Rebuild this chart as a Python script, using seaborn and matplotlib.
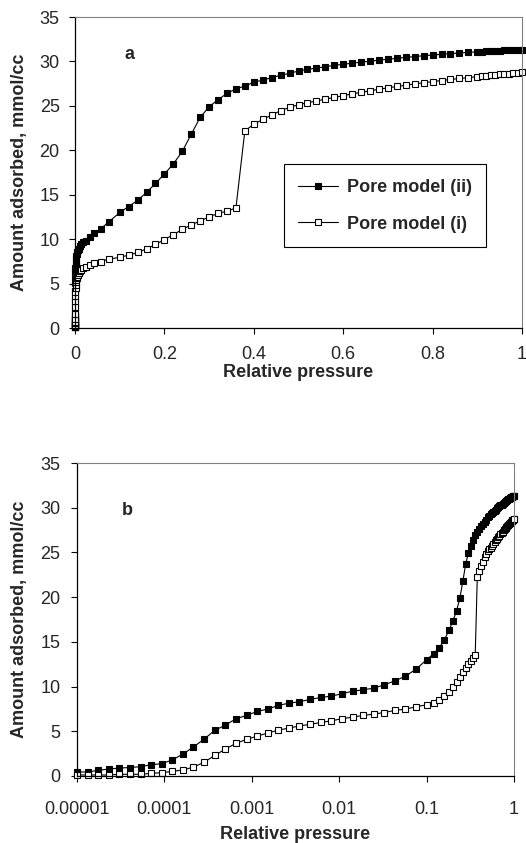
import pandas as pd
import seaborn as sns
import matplotlib.pyplot as plt
from matplotlib.ticker import NullLocator

sns.set_theme(style='ticks')
plt.rcParams['font.family'] = ['Liberation Sans', 'DejaVu Sans']

# relative pressure (log-spaced below 0.1, then steps of 0.02 / 0.01)
pressure = [1.0e-5, 1.32e-5, 1.75e-5, 2.31e-5, 3.05e-5, 4.04e-5, 5.34e-5, 7.06e-5,
            9.33e-5, 1.23e-4, 1.63e-4, 2.15e-4, 2.85e-4, 3.77e-4, 4.98e-4, 6.58e-4,
            8.70e-4, 1.15e-3, 1.52e-3, 2.01e-3, 2.66e-3, 3.51e-3, 4.64e-3, 6.14e-3,
            8.11e-3, 1.07e-2, 1.42e-2, 1.87e-2, 2.48e-2, 3.28e-2, 4.33e-2, 5.72e-2,
            7.57e-2, 0.10,
            0.12, 0.14, 0.16, 0.18, 0.20, 0.22, 0.24, 0.26, 0.28, 0.30,
            0.32, 0.34, 0.36, 0.38, 0.40, 0.42, 0.44, 0.46, 0.48, 0.50,
            0.52, 0.54, 0.56, 0.58, 0.60, 0.62, 0.64, 0.66, 0.68, 0.70,
            0.72, 0.74, 0.76, 0.78, 0.80, 0.82, 0.84, 0.86, 0.88, 0.90,
            0.91, 0.92, 0.93, 0.94, 0.95, 0.96, 0.97, 0.98, 0.99, 1.00]

# amount adsorbed, mmol/cc
model_ii = [0.45, 0.45, 0.63, 0.78, 0.89, 0.95, 1.04, 1.26, 1.38, 1.79, 2.46, 3.24,
            4.13, 5.10, 5.69, 6.40, 6.77, 7.22, 7.48, 7.89, 8.15, 8.30, 8.56, 8.78,
            8.93, 9.19, 9.49, 9.63, 9.82, 10.19, 10.64, 11.16, 11.94, 13.00,
            13.67, 14.36, 15.26, 16.27, 17.33, 18.47, 19.87, 21.80, 23.70, 24.90,
            25.70, 26.40, 26.90, 27.23, 27.65, 27.90, 28.17, 28.44, 28.66, 28.92,
            29.10, 29.25, 29.40, 29.55, 29.68, 29.80, 29.92, 30.03, 30.14, 30.25,
            30.35, 30.45, 30.55, 30.64, 30.72, 30.80, 30.88, 30.95, 31.02, 31.08,
            31.11, 31.14, 31.17, 31.20, 31.22, 31.25, 31.27, 31.29, 31.31, 31.33]

model_i = [0.11, 0.11, 0.11, 0.11, 0.19, 0.19, 0.19, 0.30, 0.37, 0.52, 0.67, 1.00,
           1.53, 2.31, 3.01, 3.65, 4.09, 4.46, 4.80, 5.13, 5.36, 5.60, 5.77, 5.99,
           6.17, 6.40, 6.58, 6.77, 6.92, 7.10, 7.33, 7.48, 7.74, 7.96,
           8.20, 8.50, 8.90, 9.40, 9.95, 10.50, 11.10, 11.60, 12.05, 12.50,
           12.90, 13.15, 13.50, 22.20, 22.92, 23.48, 23.97, 24.46, 24.83, 25.13,
           25.35, 25.55, 25.75, 25.95, 26.15, 26.35, 26.52, 26.70, 26.87, 27.03,
           27.18, 27.33, 27.47, 27.60, 27.73, 27.85, 27.97, 28.08, 28.18, 28.28,
           28.33, 28.38, 28.43, 28.48, 28.53, 28.58, 28.63, 28.68, 28.73, 28.78]

lin_ticks = [0, 0.2, 0.4, 0.6, 0.8, 1]
lin_labels = ['0', '0.2', '0.4', '0.6', '0.8', '1']
log_ticks = [1e-5, 1e-4, 1e-3, 1e-2, 1e-1, 1]
log_labels = ['0.00001', '0.0001', '0.001', '0.01', '0.1', '1']
y_ticks = [0, 5, 10, 15, 20, 25, 30, 35]

df = pd.DataFrame({'p': pressure, 'ii': model_ii, 'i': model_i})

fig = plt.figure(figsize=(5.26, 8.43), dpi=100)
ax1 = fig.add_axes([75 / 526, 1 - 328 / 843, 447 / 526, 311 / 843])
ax2 = fig.add_axes([77 / 526, 1 - 776 / 843, 437 / 526, 313 / 843])


def draw(ax, with_label):
    common = dict(data=df, x='p', ax=ax, color='black', linewidth=0.8, marker='s',
                  markersize=4.8, markeredgecolor='black', markeredgewidth=0.8,
                  sort=False, estimator=None, clip_on=False, legend=False)
    sns.lineplot(y='ii', markerfacecolor='black',
                 label='Pore model (ii)' if with_label else None, **common)
    sns.lineplot(y='i', markerfacecolor='white',
                 label='Pore model (i)' if with_label else None, **common)
    ax.set_ylim(0, 35)
    ax.set_yticks(y_ticks)
    for s in ['top', 'right']:
        ax.spines[s].set_color('#808080')
        ax.spines[s].set_linewidth(0.8)
    for s in ['left', 'bottom']:
        ax.spines[s].set_color('black')
        ax.spines[s].set_linewidth(0.9)
    ax.set_ylabel('Amount adsorbed, mmol/cc', fontsize=13, fontweight='bold')
    ax.set_xlabel('Relative pressure', fontsize=13, fontweight='bold')


draw(ax1, True)
ax1.set_xlim(0, 1)
ax1.set_xticks(lin_ticks)
ax1.set_xticklabels(lin_labels)
ax1.tick_params(axis='both', direction='out', length=4, width=0.8, labelsize=13, color='black')
ax1.tick_params(axis='x', pad=9)
ax1.tick_params(axis='y', pad=7)
ax1.yaxis.set_label_coords(-0.105, 0.5)
ax1.xaxis.set_label_coords(0.5, -0.115)
ax1.text(0.123, 0.878, 'a', transform=ax1.transAxes, fontsize=13, fontweight='bold',
         ha='center', va='center')
ax1.legend(loc='upper left', bbox_to_anchor=(0.467, 0.526), borderaxespad=0,
           prop={'weight': 'bold', 'size': 13}, frameon=True, fancybox=False,
           edgecolor='black', framealpha=1, labelspacing=1.1, handlelength=2.2,
           borderpad=0.8, handletextpad=0.5)
ax1.get_legend().get_frame().set_linewidth(0.8)

draw(ax2, False)
ax2.set_xscale('log')
ax2.set_xlim(1e-5, 1)
ax2.set_xticks(log_ticks)
ax2.set_xticklabels(log_labels)
ax2.xaxis.set_minor_locator(NullLocator())
ax2.tick_params(axis='both', direction='out', length=4, width=0.8, labelsize=13, color='black')
ax2.tick_params(axis='x', pad=14)
ax2.tick_params(axis='y', pad=8)
ax2.yaxis.set_label_coords(-0.113, 0.5)
ax2.xaxis.set_label_coords(0.5, -0.16)
ax2.text(0.115, 0.847, 'b', transform=ax2.transAxes, fontsize=13, fontweight='bold',
         ha='center', va='center')

fig.savefig('out.png', dpi=100)
